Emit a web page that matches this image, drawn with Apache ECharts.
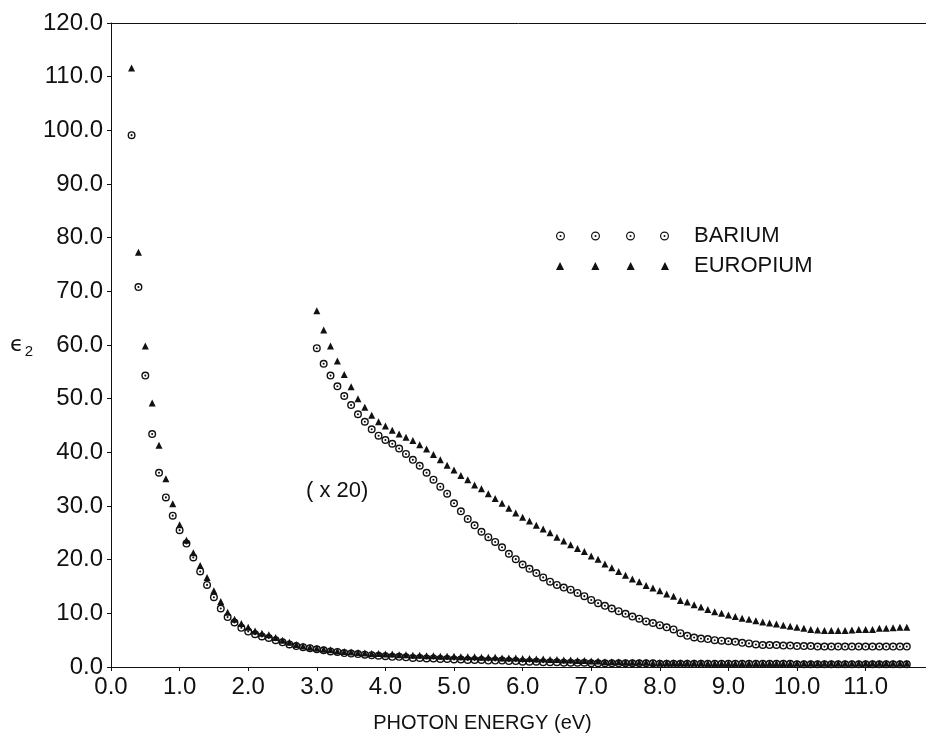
<!DOCTYPE html>
<html>
<head>
<meta charset="utf-8">
<script src="https://cdn.jsdelivr.net/npm/echarts@6/dist/echarts.min.js"></script>
<style>
  html, body { margin: 0; padding: 0; background: #fff; }
  #chart { width: 926px; height: 738px; }
</style>
</head>
<body>
<div id="chart"></div>
<script>
// photon energies (eV) of the measured points
var energyLow = [0.3,0.4,0.5,0.6,0.7,0.8,0.9,1.0,1.1,1.2,1.3,1.4,1.5,1.6,1.7,1.8,1.9,2.0,2.1,2.2,2.3,2.4,2.5,2.6,2.7,2.8,2.9,3.0,3.1,3.2,3.3,3.4,3.5,3.6,3.7,3.8,3.9,4.0,4.1,4.2,4.3,4.4,4.5,4.6,4.7,4.8,4.9,5.0,5.1,5.2,5.3,5.4,5.5,5.6,5.7,5.8,5.9,6.0,6.1,6.2,6.3,6.4,6.5,6.6,6.7,6.8,6.9,7.0,7.1,7.2,7.3,7.4,7.5,7.6,7.7,7.8,7.9,8.0,8.1,8.2,8.3,8.4,8.5,8.6,8.7,8.8,8.9,9.0,9.1,9.2,9.3,9.4,9.5,9.6,9.7,9.8,9.9,10.0,10.1,10.2,10.3,10.4,10.5,10.6,10.7,10.8,10.9,11.0,11.1,11.2,11.3,11.4,11.5,11.6];
var energyHigh = [3.0,3.1,3.2,3.3,3.4,3.5,3.6,3.7,3.8,3.9,4.0,4.1,4.2,4.3,4.4,4.5,4.6,4.7,4.8,4.9,5.0,5.1,5.2,5.3,5.4,5.5,5.6,5.7,5.8,5.9,6.0,6.1,6.2,6.3,6.4,6.5,6.6,6.7,6.8,6.9,7.0,7.1,7.2,7.3,7.4,7.5,7.6,7.7,7.8,7.9,8.0,8.1,8.2,8.3,8.4,8.5,8.6,8.7,8.8,8.9,9.0,9.1,9.2,9.3,9.4,9.5,9.6,9.7,9.8,9.9,10.0,10.1,10.2,10.3,10.4,10.5,10.6,10.7,10.8,10.9,11.0,11.1,11.2,11.3,11.4,11.5,11.6];

// eps2, real scale
var europiumLow = [111.6,77.3,59.8,49.2,41.3,35.1,30.4,
  26.5,23.6,21.3,18.9,16.7,14.2,12.2,10.2,8.9,8.1,
  7.4,6.7,6.3,6.0,5.5,5.0,4.6,4.2,3.9,3.7,
  3.5,3.3,3.2,3.0,2.9,2.8,2.7,2.6,2.5,2.5,
  2.4,2.4,2.3,2.3,2.2,2.2,2.1,2.1,2.0,2.0,
  2.0,1.9,1.9,1.9,1.8,1.8,1.8,1.7,1.7,1.7,
  1.6,1.6,1.5,1.5,1.4,1.4,1.3,1.3,1.2,1.2,
  1.1,1.1,1.0,1.0,1.0,0.9,0.9,0.9,0.9,0.8,
  0.8,0.8,0.8,0.8,0.8,0.8,0.8,0.7,0.7,0.7,
  0.7,0.7,0.7,0.7,0.7,0.7,0.7,0.7,0.7,0.7,
  0.7,0.7,0.7,0.7,0.7,0.7,0.7,0.7,0.7,0.7,
  0.7,0.7,0.7,0.7,0.7,0.7,0.7];
var bariumLow = [99.1,70.8,54.3,43.4,36.2,31.6,28.2,
  25.5,23.0,20.4,17.8,15.3,13.0,10.9,9.3,8.3,7.3,
  6.6,6.1,5.7,5.4,5.0,4.6,4.2,3.9,3.7,3.5,
  3.3,3.1,2.9,2.8,2.6,2.5,2.4,2.3,2.2,2.1,
  2.0,1.9,1.9,1.8,1.7,1.7,1.6,1.6,1.5,1.5,
  1.4,1.4,1.3,1.3,1.3,1.2,1.2,1.2,1.1,1.1,
  1.0,1.0,1.0,0.9,0.9,0.9,0.8,0.8,0.8,0.8,
  0.7,0.7,0.7,0.7,0.7,0.7,0.7,0.7,0.7,0.7,
  0.6,0.6,0.6,0.6,0.6,0.6,0.6,0.6,0.6,0.6,
  0.6,0.6,0.6,0.6,0.6,0.6,0.6,0.6,0.6,0.6,
  0.5,0.5,0.5,0.5,0.5,0.5,0.5,0.5,0.5,0.5,
  0.5,0.5,0.5,0.5,0.5,0.5,0.5];

// eps2 x 20
var europiumX20 = [66.4,62.8,59.8,57.0,54.5,52.2,50.0,48.4,46.9,45.7,
  44.9,44.1,43.4,42.8,42.2,41.4,40.6,39.6,38.6,37.6,
  36.7,35.7,34.9,33.9,33.2,32.3,31.4,30.5,29.6,28.7,
  27.9,27.2,26.4,25.7,25.0,24.2,23.5,22.8,22.1,21.5,
  20.7,20.1,19.2,18.5,17.8,17.1,16.4,15.9,15.2,14.7,
  14.2,13.6,13.2,12.4,12.1,11.6,11.2,10.7,10.3,10.0,
  9.7,9.4,9.1,8.9,8.6,8.4,8.2,8.0,7.8,7.6,
  7.4,7.2,7.0,6.9,6.8,6.8,6.8,6.8,6.9,7.0,
  7.0,7.0,7.2,7.2,7.3,7.4,7.4];
var bariumX20 = [59.4,56.5,54.3,52.3,50.5,48.8,47.1,45.7,44.3,43.1,
  42.3,41.6,40.7,39.7,38.6,37.5,36.2,34.9,33.6,32.3,
  30.5,29.0,27.6,26.4,25.2,24.2,23.3,22.3,21.1,20.1,
  19.1,18.3,17.5,16.7,15.9,15.3,14.8,14.4,13.8,13.2,
  12.5,11.9,11.4,10.9,10.4,9.9,9.4,9.0,8.5,8.2,
  7.8,7.4,7.0,6.3,5.8,5.5,5.3,5.2,5.0,4.9,
  4.8,4.7,4.5,4.4,4.2,4.1,4.1,4.1,4.0,4.0,
  3.9,3.9,3.9,3.8,3.8,3.8,3.8,3.8,3.8,3.8,
  3.8,3.8,3.8,3.8,3.8,3.8,3.8];

function pairs(xs, ys) {
  return xs.map(function (x, i) { return [x, ys[i]]; });
}

// open circle with a dot in the middle
var ringDot = 'path://M0,-10A10,10,0,1,1,0,10A10,10,0,1,1,0,-10Z' +
  'M0,-6.5A6.5,6.5,0,1,0,0,6.5A6.5,6.5,0,1,0,0,-6.5Z' +
  'M0,-2.6A2.6,2.6,0,1,1,0,2.6A2.6,2.6,0,1,1,0,-2.6Z';

// legend icons: four symbols in a row
function ringRow() {
  var s = '';
  [4.5, 39.5, 74.5, 108.5].forEach(function (c) {
    s += 'M' + c + ',0A4.5,4.5,0,1,1,' + c + ',9A4.5,4.5,0,1,1,' + c + ',0Z';
    s += 'M' + c + ',1.2A3.3,3.3,0,1,0,' + c + ',7.8A3.3,3.3,0,1,0,' + c + ',1.2Z';
    s += 'M' + c + ',3.5A1,1,0,1,1,' + c + ',5.5A1,1,0,1,1,' + c + ',3.5Z';
  });
  return 'path://' + s;
}
function triRow() {
  var s = '';
  [4.5, 39.5, 74.5, 108.5].forEach(function (c) {
    s += 'M' + (c - 4) + ',8.5L' + c + ',0.5L' + (c + 4) + ',8.5Z';
  });
  return 'path://' + s;
}

var font = 'Liberation Sans';
var ink = '#111';

var chart = echarts.init(document.getElementById('chart'));

var option = {
  backgroundColor: '#fff',
  animation: false,
  grid: { left: 111, right: 0, top: 23, bottom: 65 },
  legend: {
    orient: 'vertical',
    left: 551,
    top: 220,
    itemWidth: 113,
    itemHeight: 9,
    itemGap: 8,
    selectedMode: false,
    textStyle: { fontFamily: font, fontSize: 22, color: ink, padding: [0, 0, 0, 20] },
    data: [
      { name: 'BARIUM', icon: ringRow() },
      { name: 'EUROPIUM', icon: triRow() }
    ]
  },
  graphic: [{
    type: 'text',
    left: 306,
    top: 480,
    style: { text: '( x 20)', font: '22px "Liberation Sans"', fill: ink }
  }],
  xAxis: [{
    type: 'value',
    min: 0,
    max: 11.88,
    interval: 1,
    name: 'PHOTON ENERGY (eV)',
    nameLocation: 'middle',
    nameGap: 46,
    nameTextStyle: { fontFamily: font, fontSize: 20, color: ink, padding: [0, 72, 0, 0] },
    axisLine: { lineStyle: { color: ink, width: 1 } },
    axisTick: { length: 4, lineStyle: { color: ink } },
    axisLabel: {
      fontFamily: font, fontSize: 24, color: ink, margin: 8, showMaxLabel: false,
      formatter: function (v) { return v.toFixed(1); }
    },
    splitLine: { show: false }
  }, {
    type: 'value',
    position: 'top',
    min: 0,
    max: 11.88,
    axisLine: { lineStyle: { color: ink, width: 1 } },
    axisTick: { show: false },
    axisLabel: { show: false },
    splitLine: { show: false }
  }],
  yAxis: {
    type: 'value',
    min: 0,
    max: 120,
    interval: 10,
    name: '{e|ϵ}{s|2}',
    nameLocation: 'middle',
    nameRotate: 0,
    nameGap: 78,
    nameTextStyle: {
      rich: {
        e: { fontFamily: 'DejaVu Sans', fontSize: 22, color: ink },
        s: { fontFamily: font, fontSize: 15, color: ink, padding: [14, 0, 0, 1] }
      }
    },
    axisLine: { show: true, lineStyle: { color: ink, width: 1 } },
    axisTick: { show: true, length: 4, lineStyle: { color: ink } },
    axisLabel: {
      fontFamily: font, fontSize: 24, color: ink, margin: 8,
      formatter: function (v) { return v.toFixed(1); }
    },
    splitLine: { show: false }
  },
  series: [{
    name: 'BARIUM',
    type: 'scatter',
    symbol: ringDot,
    symbolSize: 8,
    itemStyle: { color: ink, opacity: 1 },
    data: pairs(energyLow, bariumLow)
  }, {
    name: 'EUROPIUM',
    type: 'scatter',
    symbol: 'triangle',
    symbolSize: 7,
    itemStyle: { color: ink, opacity: 1 },
    data: pairs(energyLow, europiumLow)
  }, {
    name: 'BARIUM',
    type: 'scatter',
    symbol: ringDot,
    symbolSize: 8,
    itemStyle: { color: ink, opacity: 1 },
    data: pairs(energyHigh, bariumX20)
  }, {
    name: 'EUROPIUM',
    type: 'scatter',
    symbol: 'triangle',
    symbolSize: 7,
    itemStyle: { color: ink, opacity: 1 },
    data: pairs(energyHigh, europiumX20)
  }]
};

chart.setOption(option);
window.addEventListener('resize', function () { chart.resize(); });
</script>
</body>
</html>
